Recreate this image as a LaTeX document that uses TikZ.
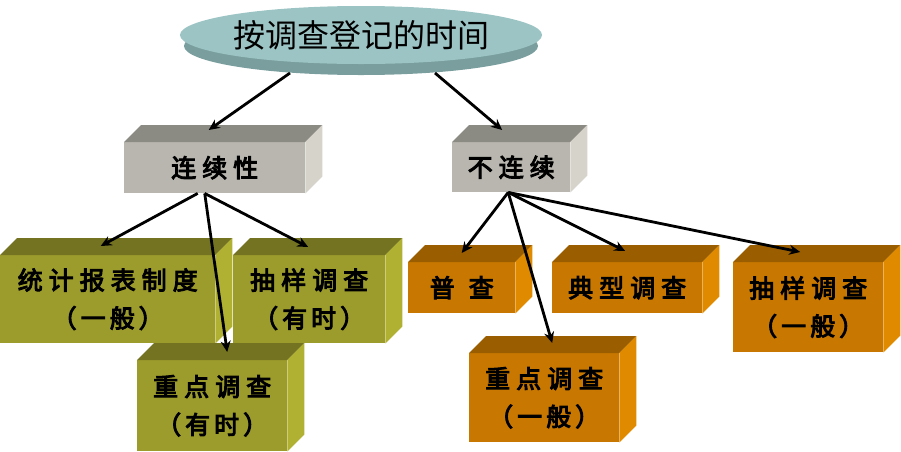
\documentclass[tikz,border=0pt]{standalone}
\usepackage{fontspec}
\usetikzlibrary{arrows.meta,shapes.geometric}
\newfontfamily\cjk{Noto Sans CJK SC}
\newfontfamily\cjkb{Noto Sans CJK SC}[FakeBold=4]
\definecolor{discTop}{HTML}{9DC4C4}
\definecolor{discRim}{HTML}{7A9E9E}
\definecolor{greyF}{HTML}{B8B6AE}
\definecolor{greyT}{HTML}{8C8B83}
\definecolor{greyS}{HTML}{D5D3CA}
\definecolor{oliveF}{HTML}{9C9C2C}
\definecolor{oliveT}{HTML}{737322}
\definecolor{oliveS}{HTML}{B0B032}
\definecolor{orangeF}{HTML}{C87800}
\definecolor{orangeT}{HTML}{9A5E00}
\definecolor{orangeS}{HTML}{E08A00}
\tikzset{
  face/.style={rectangle, anchor=north west, inner sep=0pt, align=center,
    font=\cjkb\fontsize{25}{38}\selectfont, text=black},
  arr/.style={draw=black, line width=2.8pt, -{Stealth[length=11pt,width=10pt]}},
}
% \mycube{name}{x}{y}{w}{h}{front}{top}{side}{text}
\newcommand{\mycube}[9]{%
  \node[face, fill=#6, minimum width=#4pt, minimum height=#5pt] (#1) at (#2,-#3) {#9};
  \fill[#7] (#1.north west) -- ([shift={(17pt,17pt)}]#1.north west) -- ([shift={(17pt,17pt)}]#1.north east) -- (#1.north east) -- cycle;
  \fill[#8] (#1.north east) -- ([shift={(17pt,17pt)}]#1.north east) -- ([shift={(17pt,17pt)}]#1.south east) -- (#1.south east) -- cycle;
}
\newcommand{\gp}{\hspace{6pt}}
\newcommand{\pp}{\hspace{4pt}}
\begin{document}
\begin{tikzpicture}[x=1pt,y=1pt]
\useasboundingbox (0,0) rectangle (901,-451);
% top disc
\fill[discRim] (361,-46) ellipse [x radius=177, y radius=29];
\node[ellipse, fill=discTop, minimum width=354pt, minimum height=58pt, inner sep=0pt,
  font=\cjk\fontsize{32}{34}\selectfont] (top) at (361,-35) {按调查登记的时间};
% level 2
\mycube{lx}{124}{142}{181}{51}{greyF}{greyT}{greyS}{连\gp 续\gp 性}
\mycube{rx}{452}{142}{118}{50}{greyF}{greyT}{greyS}{不\gp 连\gp 续}
% level 3 olive
\mycube{a1}{0}{255}{215}{88}{oliveF}{oliveT}{oliveS}{统\gp 计\gp 报\gp 表\gp 制\gp 度\\（\pp 一\pp 般\pp ）}
\mycube{a2}{233}{255}{152}{88}{oliveF}{oliveT}{oliveS}{抽\gp 样\gp 调\gp 查\\（\pp 有\pp 时\pp ）}
\mycube{a3}{137}{360}{150}{91}{oliveF}{oliveT}{oliveS}{重\gp 点\gp 调\gp 查\\（\pp 有\pp 时\pp ）}
% level 3 orange
\mycube{b1}{408}{262}{107}{51}{orangeF}{orangeT}{orangeS}{普\hspace{14pt}查}
\mycube{b3}{552}{262}{150}{51}{orangeF}{orangeT}{orangeS}{典\gp 型\gp 调\gp 查}
\mycube{b4}{733}{262}{150}{90}{orangeF}{orangeT}{orangeS}{抽\gp 样\gp 调\gp 查\\（\pp 一\pp 般\pp ）}
\mycube{b2}{469}{353}{150}{89}{orangeF}{orangeT}{orangeS}{重\gp 点\gp 调\gp 查\\（\pp 一\pp 般\pp ）}
% arrows
\draw[arr] ([shift={(-71pt,-38pt)}]top.center) -- ([shift={(-6pt,12pt)}]lx.north);
\draw[arr] ([shift={(74pt,-38pt)}]top.center) -- ([shift={(-9pt,12pt)}]rx.north);
\draw[arr] ([xshift=-17pt]lx.south) -- ([shift={(-7pt,9pt)}]a1.north);
\draw[arr] ([xshift=-10pt]lx.south) -- ([shift={(-1pt,8pt)}]a2.north);
\draw[arr] ([xshift=-10pt]lx.south) -- ([shift={(15pt,8pt)}]a3.north);
\draw[arr] ([xshift=-3pt]rx.south) -- ([shift={(0pt,9pt)}]b1.north);
\draw[arr] ([xshift=-3pt]rx.south) -- ([shift={(8pt,10pt)}]b2.north);
\draw[arr] ([xshift=-3pt]rx.south) -- ([shift={(-2pt,11pt)}]b3.north);
\draw[arr] ([xshift=-3pt]rx.south) -- ([shift={(-8pt,10pt)}]b4.north);
\end{tikzpicture}
\end{document}
